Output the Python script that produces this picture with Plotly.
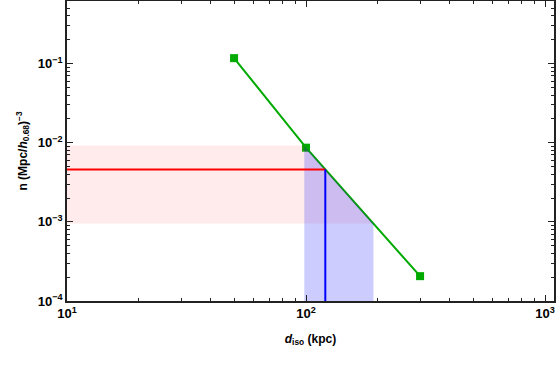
import numpy as np
import plotly.graph_objects as go

# green power-law points
d_pts = [50, 100, 300]
n_pts = [0.117, 0.00865, 2.06e-4]

# observed density and its band
n_obs = 0.0046
n_lo = 9.5e-4
n_hi = 0.0092

x_min, x_max = 10, 1090
y_min = 1e-4

ld = np.log10(d_pts)
ln = np.log10(n_pts)


def d_at(n):
    # invert the (decreasing) green curve in log space
    return 10 ** np.interp(np.log10(n), ln[::-1], ld[::-1])


def n_at(d):
    return 10 ** np.interp(np.log10(d), ld, ln)


d_hi = d_at(n_hi)
d_lo = d_at(n_lo)
d_obs = d_at(n_obs)

# pink band: y in [n_lo, n_hi], left of green curve
inner = [d for d in d_pts if d_hi < d < d_lo]
px = [x_min, x_min, d_hi] + inner + [d_lo, x_min]
py = [n_lo, n_hi, n_hi] + [n_at(d) for d in inner] + [n_lo, n_lo]

# blue band: x in [d_hi, d_lo], under green curve
bx = [d_hi, d_hi] + inner + [d_lo, d_lo, d_hi]
by = [y_min, n_hi] + [n_at(d) for d in inner] + [n_lo, y_min, y_min]

fig = go.Figure()
fig.add_trace(go.Scatter(
    x=d_pts, y=n_pts, mode="lines+markers",
    line=dict(color="rgb(0,170,0)", width=2),
    marker=dict(symbol="square", size=8, color="rgb(0,170,0)"),
))
fig.add_trace(go.Scatter(
    x=px, y=py, fill="toself", mode="lines", line=dict(width=0),
    fillcolor="rgba(255,0,0,0.08)",
))
fig.add_trace(go.Scatter(
    x=bx, y=by, fill="toself", mode="lines", line=dict(width=0),
    fillcolor="rgba(0,0,255,0.2)",
))
fig.add_trace(go.Scatter(
    x=[x_min, d_obs], y=[n_obs, n_obs], mode="lines",
    line=dict(color="rgb(255,0,0)", width=2),
))
fig.add_trace(go.Scatter(
    x=[d_obs, d_obs], y=[y_min, n_obs], mode="lines",
    line=dict(color="rgb(0,0,255)", width=2),
))

xt = [10, 100, 1000]
yt = [1e-4, 1e-3, 1e-2, 1e-1]
xtxt = ["<b>10<sup>%d</sup></b>" % e for e in [1, 2, 3]]
ytxt = ["<b>10<sup>\u2212%d</sup></b>" % e for e in [4, 3, 2, 1]]

axis = dict(
    type="log", showgrid=False, zeroline=False, automargin=False,
    showline=True, linecolor="#222", linewidth=1.5, mirror="allticks",
    ticks="inside", ticklen=6, tickwidth=1.2, tickcolor="#222",
    minor=dict(ticks="inside", ticklen=3, tickwidth=1, tickcolor="#222",
               dtick="D1", showgrid=False),
    tickfont=dict(size=13, color="black"),
)

fig.update_layout(
    width=556, height=369,
    margin=dict(l=67, r=2, t=1, b=68),
    plot_bgcolor="white", paper_bgcolor="white",
    showlegend=False,
    font=dict(family="Liberation Sans, Arial, sans-serif", color="black"),
    xaxis=dict(axis, range=[np.log10(x_min), np.log10(x_max)],
               tickvals=xt, ticktext=xtxt,
               title=dict(text="<b><i>d</i><sub>iso</sub> (kpc)</b>",
                          font=dict(size=12), standoff=14)),
    yaxis=dict(axis, range=[-4, -0.21],
               tickvals=yt, ticktext=ytxt,
               title=dict(text="<b>n (Mpc/<i>h</i><sub>0.68</sub>)<sup>\u22123</sup></b>",
                          font=dict(size=12), standoff=8)),
)

fig.write_html("out.html", config={"displayModeBar": False},
               post_script="document.body.style.margin='0';")
